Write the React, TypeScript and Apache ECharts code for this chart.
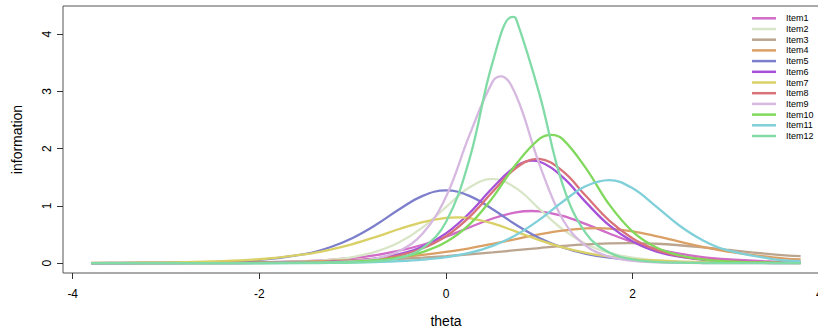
import React, { useEffect, useRef } from "react";
import * as echarts from "echarts";

const theta = [-3.8, -3.5, -3, -2.5, -2, -1.5, -1.25, -1, -0.75, -0.5, -0.25, 0, 0.25, 0.5, 0.75, 1, 1.25, 1.5, 1.75, 2, 2.25, 2.5, 2.75, 3, 3.5, 3.8];

const item1 = [0.000, 0.001, 0.002, 0.005, 0.014, 0.036, 0.058, 0.090, 0.140, 0.216, 0.320, 0.460, 0.622, 0.779, 0.886, 0.905, 0.826, 0.681, 0.517, 0.368, 0.250, 0.164, 0.106, 0.067, 0.027, 0.015];
const item2 = [0.000, 0.000, 0.001, 0.002, 0.008, 0.029, 0.057, 0.106, 0.200, 0.363, 0.623, 0.976, 1.320, 1.470, 1.309, 0.947, 0.589, 0.333, 0.177, 0.094, 0.048, 0.024, 0.012, 0.006, 0.002, 0.001];
const item3 = [0.002, 0.003, 0.005, 0.008, 0.015, 0.025, 0.034, 0.044, 0.058, 0.075, 0.096, 0.122, 0.153, 0.187, 0.225, 0.263, 0.299, 0.328, 0.345, 0.350, 0.338, 0.312, 0.275, 0.234, 0.154, 0.120];
const item4 = [0.001, 0.001, 0.003, 0.006, 0.013, 0.026, 0.038, 0.052, 0.074, 0.103, 0.143, 0.194, 0.259, 0.336, 0.420, 0.502, 0.568, 0.605, 0.603, 0.554, 0.471, 0.375, 0.284, 0.206, 0.101, 0.063];
const item5 = [0.001, 0.002, 0.006, 0.018, 0.055, 0.163, 0.272, 0.439, 0.669, 0.940, 1.175, 1.270, 1.175, 0.940, 0.669, 0.439, 0.272, 0.163, 0.094, 0.055, 0.032, 0.018, 0.010, 0.006, 0.002, 0.001];
const item6 = [0.000, 0.000, 0.000, 0.001, 0.003, 0.011, 0.022, 0.043, 0.081, 0.155, 0.289, 0.519, 0.870, 1.315, 1.691, 1.775, 1.503, 1.061, 0.657, 0.376, 0.204, 0.111, 0.058, 0.030, 0.008, 0.004];
const item7 = [0.003, 0.005, 0.012, 0.029, 0.067, 0.156, 0.232, 0.332, 0.457, 0.595, 0.717, 0.791, 0.786, 0.694, 0.551, 0.401, 0.274, 0.179, 0.114, 0.071, 0.045, 0.027, 0.017, 0.010, 0.004, 0.002];
const item8 = [0.000, 0.000, 0.000, 0.001, 0.003, 0.010, 0.020, 0.038, 0.074, 0.137, 0.260, 0.470, 0.804, 1.245, 1.661, 1.819, 1.605, 1.171, 0.742, 0.430, 0.235, 0.126, 0.067, 0.035, 0.009, 0.004];
const item9 = [0.000, 0.000, 0.000, 0.000, 0.001, 0.005, 0.013, 0.034, 0.084, 0.213, 0.515, 1.160, 2.230, 3.170, 2.930, 1.730, 0.766, 0.299, 0.112, 0.040, 0.014, 0.005, 0.002, 0.001, 0.000, 0.000];
const item10 = [0.000, 0.000, 0.000, 0.000, 0.002, 0.006, 0.013, 0.026, 0.051, 0.099, 0.193, 0.367, 0.672, 1.144, 1.725, 2.168, 2.165, 1.655, 1.021, 0.550, 0.276, 0.137, 0.064, 0.030, 0.007, 0.003];
const item11 = [0.000, 0.000, 0.000, 0.000, 0.001, 0.003, 0.006, 0.011, 0.019, 0.033, 0.059, 0.103, 0.177, 0.300, 0.490, 0.756, 1.072, 1.345, 1.450, 1.306, 0.990, 0.656, 0.399, 0.229, 0.071, 0.033];
const item12 = [0.000, 0.000, 0.000, 0.000, 0.000, 0.001, 0.003, 0.010, 0.030, 0.089, 0.262, 0.718, 1.806, 3.510, 4.270, 2.960, 1.370, 0.518, 0.183, 0.063, 0.021, 0.007, 0.002, 0.001, 0.000, 0.000];

// peak of each curve (theta, information); null = already on the grid
const peakTheta = [0.92, null, 1.95, 1.62, null, 0.93, 0.12, 0.98, 0.59, 1.13, null, 0.71];
const peakValue = [0.910, null, 0.350, 0.610, null, 1.790, 0.800, 1.820, 3.260, 2.240, null, 4.300];

const itemNames = ["Item1", "Item2", "Item3", "Item4", "Item5", "Item6", "Item7", "Item8", "Item9", "Item10", "Item11", "Item12"];
const itemValues = [item1, item2, item3, item4, item5, item6, item7, item8, item9, item10, item11, item12];
const itemColors = ["#D16DC8", "#D8E5C6", "#BBA58F", "#DBA066", "#7D7FCC", "#A552D8", "#D9D066", "#D8737A", "#D6B8E0", "#80D95C", "#80D0D9", "#80DBA6"];

const xTicks = [-4, -2, 0, 2, 4];
const yTicks = [0, 1, 2, 3, 4];

const FONT = "'Liberation Sans', Arial, Helvetica, sans-serif";

function seriesPoints(i: number): number[][] {
  const pts = theta.map((t, j) => [t, itemValues[i][j]]);
  const pt = peakTheta[i];
  const pv = peakValue[i];
  if (pt !== null && pv !== null) pts.push([pt, pv]);
  pts.sort((a, b) => a[0] - b[0]);
  return pts;
}

export default function App() {
  const ref = useRef<HTMLDivElement>(null);
  useEffect(() => {
    if (!ref.current) return;
    const chart = echarts.init(ref.current, null, { renderer: "svg" });
    chart.setOption({
      animation: false,
      backgroundColor: "#ffffff",
      textStyle: { fontFamily: FONT },
      grid: {
        left: 63,
        top: 6,
        width: 766,
        height: 267,
        show: true,
        containLabel: false,
        outerBoundsMode: "none",
        borderColor: "#555555",
        borderWidth: 1,
        backgroundColor: "transparent",
      },
      legend: {
        show: true,
        orient: "vertical",
        left: 752,
        top: 13.3,
        padding: 0,
        itemGap: 0.7,
        itemWidth: 24,
        itemHeight: 2.5,
        icon: "rect",
        selectedMode: false,
        textStyle: { fontSize: 9, lineHeight: 10, color: "#000", fontFamily: FONT, padding: [0, 0, 0, 5] },
        data: itemNames.map((n, i) => ({ name: n, itemStyle: { color: itemColors[i] } })),
      },
      xAxis: {
        type: "value",
        min: -4.104,
        max: 4.104,
        name: "theta",
        nameLocation: "middle",
        nameGap: 41,
        nameTextStyle: { fontSize: 14, color: "#000", fontFamily: FONT },
        splitLine: { show: false },
        axisLine: { show: false, onZero: false },
        axisTick: { show: true, length: 6, customValues: xTicks, lineStyle: { color: "#333" } },
        axisLabel: { customValues: xTicks, fontSize: 12, color: "#000", margin: 15, fontFamily: FONT },
      },
      yAxis: {
        type: "value",
        min: -0.173,
        max: 4.49,
        name: "information",
        nameLocation: "middle",
        nameGap: 39,
        nameTextStyle: { fontSize: 14, color: "#000", fontFamily: FONT },
        splitLine: { show: false },
        axisLine: { show: false, onZero: false },
        axisTick: { show: true, length: 6, customValues: yTicks, lineStyle: { color: "#333" } },
        axisLabel: { customValues: yTicks, fontSize: 12, color: "#000", margin: 10, rotate: 90, fontFamily: FONT },
      },
      series: itemNames.map((n, i) => ({
        name: n,
        type: "line",
        showSymbol: false,
        smooth: 0.4,
        color: itemColors[i],
        lineStyle: { width: 2.3, color: itemColors[i] },
        data: seriesPoints(i),
      })),
    });
    return () => chart.dispose();
  }, []);
  return <div ref={ref} style={{ position: "fixed", left: 0, top: 0, width: 818, height: 331 }} />;
}
